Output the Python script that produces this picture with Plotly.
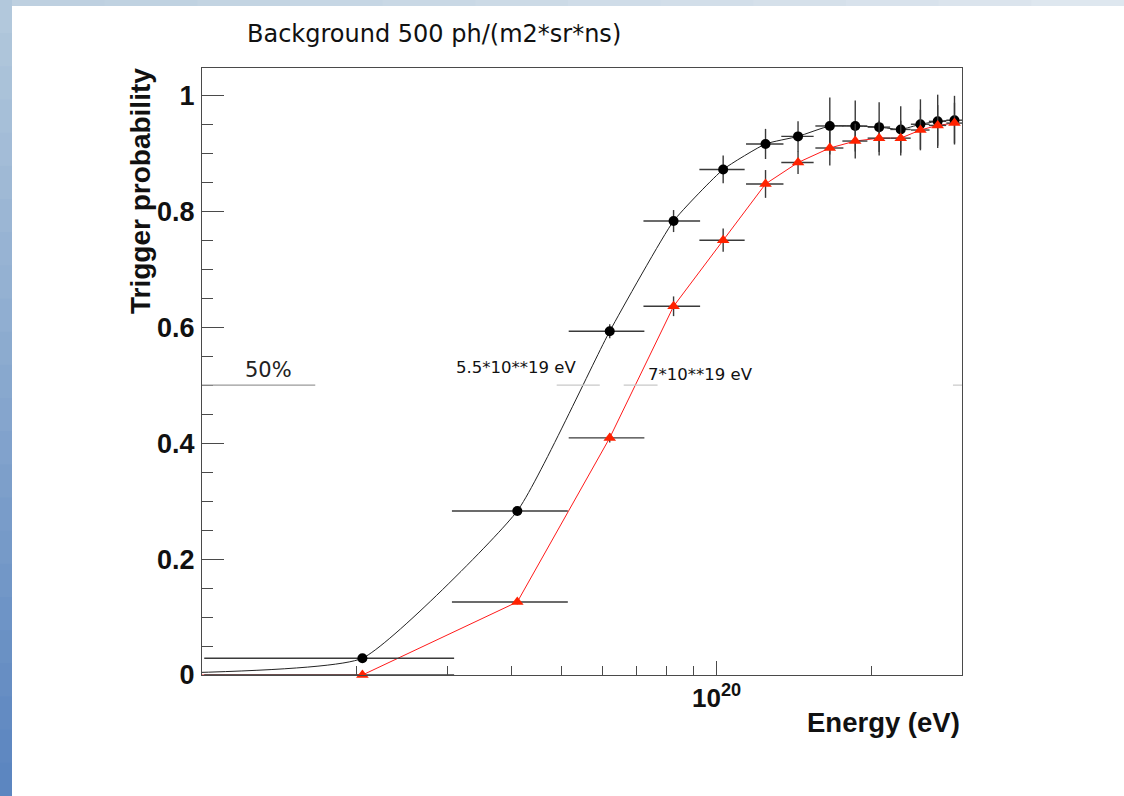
import plotly.graph_objects as go

# ---------------- data ----------------
energy_black = [2.05e19, 4.1e19, 6.2e19, 8.25e19, 1.03e20, 1.245e20, 1.44e20, 1.66e20,
                1.86e20, 2.07e20, 2.28e20, 2.49e20, 2.69e20, 2.9e20]
prob_black = [0.029, 0.283, 0.593, 0.783, 0.872, 0.916, 0.929, 0.947,
              0.947, 0.945, 0.941, 0.950, 0.955, 0.957]
yerr_black = [0.003, 0.007, 0.012, 0.019, 0.024, 0.026, 0.026, 0.049,
              0.044, 0.043, 0.040, 0.043, 0.046, 0.042]

energy_red = [2.05e19, 4.1e19, 6.2e19, 8.25e19, 1.03e20, 1.245e20, 1.44e20, 1.66e20,
              1.86e20, 2.07e20, 2.28e20, 2.49e20, 2.69e20, 2.9e20]
prob_red = [0.0, 0.126, 0.409, 0.636, 0.750, 0.847, 0.884, 0.909,
            0.921, 0.926, 0.926, 0.940, 0.948, 0.952]
yerr_red = [0.0, 0.004, 0.008, 0.017, 0.020, 0.024, 0.020, 0.030,
            0.030, 0.030, 0.030, 0.035, 0.035, 0.035]

xerr_bin = 1.04e19          # half bin width in energy
lead_energy = 0.95e19       # point just left of the axis range
lead_black = 0.004
lead_red = 0.0

ytick_vals = [0, 0.2, 0.4, 0.6, 0.8, 1.0]
ytick_text = ["0", "0.2", "0.4", "0.6", "0.8", "1"]
xtick_vals = [1e20]
xtick_text = ["<b>10<sup>20</sup></b>"]
xminor_vals = [2e19, 3e19, 4e19, 5e19, 6e19, 7e19, 8e19, 9e19, 2e20]
x_range_log = [19.0, 20.477]

half_level = 0.5
label_black = "5.5*10**19 eV"
label_red = "7*10**19 eV"
title_text = "Background 500 ph/(m2*sr*ns)"

# ---------------- geometry ----------------
W, H = 1124, 796
L, R, T, B = 202, 962, 68, 675
PW, PH = R - L, B - T


def px(xp):
    return (xp - L) / PW


def py(yp):
    return (B - yp) / PH


ERR_COL = "#3a3a3a"
RED = "#ff2200"

fig = go.Figure()

# connecting curves (including the point just off the left edge)
fig.add_trace(go.Scatter(
    x=[lead_energy] + energy_black, y=[lead_black] + prob_black,
    mode="lines", line=dict(color="#222222", width=1, shape="spline", smoothing=0.45),
    hoverinfo="skip", showlegend=False))
fig.add_trace(go.Scatter(
    x=[lead_energy] + energy_red, y=[lead_red] + prob_red,
    mode="lines", line=dict(color="#ff1a1a", width=1),
    hoverinfo="skip", showlegend=False))

# markers with error bars
fig.add_trace(go.Scatter(
    x=energy_black, y=prob_black, mode="markers",
    marker=dict(symbol="circle", size=10, color="black"),
    error_x=dict(type="constant", value=xerr_bin, color=ERR_COL, thickness=1.4, width=0),
    error_y=dict(type="data", array=yerr_black, color=ERR_COL, thickness=1.4, width=0),
    cliponaxis=False, showlegend=False))
fig.add_trace(go.Scatter(
    x=energy_red, y=prob_red, mode="markers",
    marker=dict(symbol="triangle-up", size=11, color=RED),
    error_x=dict(type="constant", value=xerr_bin, color=ERR_COL, thickness=1.4, width=0),
    error_y=dict(type="data", array=yerr_red, color=ERR_COL, thickness=1.4, width=0),
    cliponaxis=False, showlegend=False))

shapes = []
# 50% guide lines
for x0, x1, col in [(1.0e19, 1.66e19, "#9a9a9a"), (4.89e19, 5.93e19, "#c8c8c8"),
                    (6.6e19, 7.68e19, "#c8c8c8"), (2.88e20, 3.0e20, "#c8c8c8")]:
    shapes.append(dict(type="line", xref="x", yref="y", x0=x0, x1=x1,
                       y0=half_level, y1=half_level, line=dict(color=col, width=1.2)))

# slide background strips (gradient made of bands)
n = 24
top_c = (178, 200, 220)
bot_c = (92, 134, 192)
for i in range(n):
    f = i / (n - 1)
    c = tuple(int(top_c[k] + (bot_c[k] - top_c[k]) * f) for k in range(3))
    y0p = H * i / n
    y1p = H * (i + 1) / n + 1
    shapes.append(dict(type="rect", xref="paper", yref="paper",
                       x0=px(0), x1=px(12), y0=py(y1p), y1=py(y0p),
                       fillcolor="rgb(%d,%d,%d)" % c, line=dict(width=0), layer="above"))
m = 12
left_c = (190, 208, 224)
right_c = (222, 231, 239)
for i in range(m):
    f = i / (m - 1)
    c = tuple(int(left_c[k] + (right_c[k] - left_c[k]) * f) for k in range(3))
    shapes.append(dict(type="rect", xref="paper", yref="paper",
                       x0=px(12 + (W - 12) * i / m), x1=px(12 + (W - 12) * (i + 1) / m + 1),
                       y0=py(6), y1=py(0),
                       fillcolor="rgb(%d,%d,%d)" % c, line=dict(width=0), layer="above"))

annotations = [
    dict(text=title_text, xref="paper", yref="paper", x=px(434), y=py(34),
         showarrow=False, xanchor="center", yanchor="middle",
         font=dict(family="DejaVu Sans", size=24, color="#111111")),
    dict(text="50%", xref="paper", yref="paper", x=px(268), y=py(370),
         showarrow=False, xanchor="center", yanchor="middle",
         font=dict(family="DejaVu Sans", size=21, color="#222222")),
    dict(text=label_black, xref="paper", yref="paper", x=px(516), y=py(367),
         showarrow=False, xanchor="center", yanchor="middle",
         font=dict(family="DejaVu Sans", size=16.5, color="#111111")),
    dict(text=label_red, xref="paper", yref="paper", x=px(700), y=py(374),
         showarrow=False, xanchor="center", yanchor="middle",
         font=dict(family="DejaVu Sans", size=16.5, color="#111111")),
    dict(text="<b>Trigger probability</b>", xref="paper", yref="paper", x=px(140), y=py(191),
         showarrow=False, xanchor="center", yanchor="middle", textangle=-90,
         font=dict(family="Liberation Sans", size=28, color="#111111")),
    dict(text="<b>Energy (eV)</b>", xref="paper", yref="paper", x=px(962), y=py(722),
         showarrow=False, xanchor="right", yanchor="middle",
         font=dict(family="Liberation Sans", size=27.5, color="#111111")),
]

fig.update_layout(
    width=W, height=H,
    margin=dict(l=L, r=W - R, t=T, b=H - B, pad=0),
    paper_bgcolor="white", plot_bgcolor="white",
    shapes=shapes, annotations=annotations, showlegend=False,
    xaxis=dict(type="log", range=x_range_log, showgrid=False, zeroline=False,
               showline=True, linecolor="#4a4a4a", linewidth=1.2, mirror=True,
               ticks="inside", ticklen=14, tickwidth=1.2, tickcolor="#4a4a4a",
               tickmode="array", tickvals=xtick_vals, ticktext=xtick_text,
               tickfont=dict(family="Liberation Sans", size=26, color="#111111"),
               minor=dict(tickmode="array", tickvals=xminor_vals, ticks="inside",
                          ticklen=9, tickwidth=1.2, tickcolor="#4a4a4a", showgrid=False)),
    yaxis=dict(range=[0, 1.047], showgrid=False, zeroline=False,
               showline=True, linecolor="#4a4a4a", linewidth=1.2, mirror=True,
               ticks="inside", ticklen=22, tickwidth=1.2, tickcolor="#4a4a4a",
               tickmode="array", tickvals=ytick_vals, ticktext=ytick_text,
               tickfont=dict(family="Liberation Sans", size=27, color="#111111", weight="bold"),
               ticklabelstandoff=1,
               minor=dict(dtick=0.05, tick0=0, ticks="inside", ticklen=11, tickwidth=1.2,
                          tickcolor="#4a4a4a", showgrid=False)),
)

fig.write_html("out.html", config={"displayModeBar": False},
               post_script="document.body.style.margin='0';document.body.style.overflow='hidden';")
